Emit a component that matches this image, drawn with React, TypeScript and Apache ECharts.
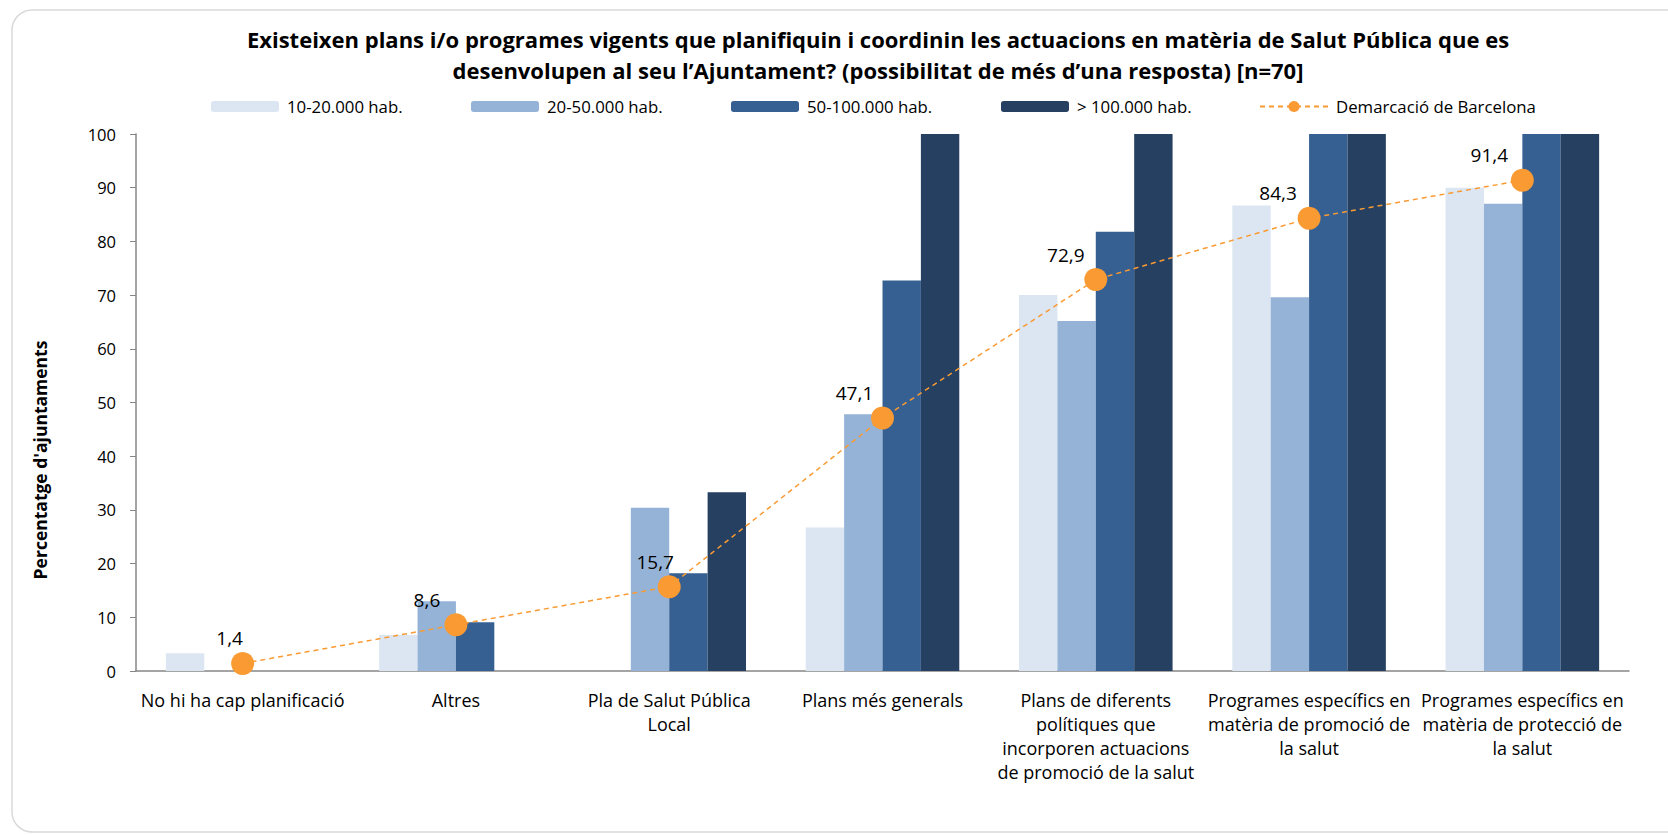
import React, { useEffect, useRef } from "react";
import * as echarts from "echarts";

const categories = [
  "No hi ha cap planificació",
  "Altres",
  "Pla de Salut Pública\nLocal",
  "Plans més generals",
  "Plans de diferents\npolítiques que\nincorporen actuacions\nde promoció de la salut",
  "Programes específics en\nmatèria de promoció de\nla salut",
  "Programes específics en\nmatèria de protecció de\nla salut",
];

const seriesNames = ["10-20.000 hab.", "20-50.000 hab.", "50-100.000 hab.", "> 100.000 hab."];
const s10_20 = [3.3, 6.7, 0, 26.7, 70.0, 86.7, 90.0];
const s20_50 = [0, 13.0, 30.4, 47.8, 65.2, 69.6, 87.0];
const s50_100 = [0, 9.1, 18.2, 72.7, 81.8, 100, 100];
const s100 = [0, 0, 33.3, 100, 100, 100, 100];
const lineName = "Demarcació de Barcelona";
const demarcacio = [1.4, 8.6, 15.7, 47.1, 72.9, 84.3, 91.4];

const yTicks = { min: 0, max: 100, interval: 10 };

const titleLines = [
  "Existeixen plans i/o programes vigents que planifiquin i coordinin les actuacions en matèria de Salut Pública que es",
  "desenvolupen al seu l’Ajuntament? (possibilitat de més d’una resposta) [n=70]",
];
const yAxisTitle = "Percentatge d'ajuntaments";

// styles
const barColors = ["#DCE6F2", "#95B3D7", "#376092", "#254061"];
const orange = "#F99A33";
const labelOffsetsX = [-13, -29, -14, -28, -30, -31, -33];
const legendLefts = [206, 466, 726, 996, 1254];
const FONT = "'Open Sans', 'Noto Sans', sans-serif";

export default function App() {
  const ref = useRef<HTMLDivElement>(null);

  useEffect(() => {
    if (!ref.current) return;
    const chart = echarts.init(ref.current, undefined, { renderer: "svg" });
    const barData = [s10_20, s20_50, s50_100, s100];

    const barSeries = barData.map((d, i) => ({
      name: seriesNames[i],
      type: "bar",
      data: d,
      barGap: "0%",
      barCategoryGap: "28%",
      itemStyle: { color: barColors[i] },
      z: 2,
    }));

    const legends = [...seriesNames, lineName].map((n, i) => ({
      data: [n],
      left: legendLefts[i],
      top: 93,
      itemWidth: 68,
      itemHeight: i < 4 ? 11 : 14,
      textStyle: { fontFamily: FONT, fontSize: 16.8, color: "#000", padding: [0, 0, 0, 3] },
      selectedMode: false,
    }));

    chart.setOption({
      animation: false,
      backgroundColor: "#fff",
      textStyle: { fontFamily: FONT },
      legend: legends,
      grid: { left: 136, right: 39, top: 134, bottom: 164, containLabel: false },
      xAxis: {
        type: "category",
        data: categories,
        axisLine: { lineStyle: { color: "#868686", width: 1.5 } },
        axisTick: { show: false },
        axisLabel: {
          interval: 0,
          margin: 17,
          color: "#000",
          fontSize: 18,
          lineHeight: 24,
          fontFamily: FONT,
        },
      },
      yAxis: {
        type: "value",
        min: yTicks.min,
        max: yTicks.max,
        interval: yTicks.interval,
        axisLine: { show: true, lineStyle: { color: "#868686", width: 1.5 } },
        axisTick: { show: true, length: 6, lineStyle: { color: "#868686" } },
        splitLine: { show: false },
        axisLabel: { color: "#000", fontSize: 16.5, margin: 20, fontFamily: FONT },
      },
      series: [
        ...barSeries,
        {
          name: lineName,
          type: "line",
          data: demarcacio.map((v, i) => ({
            value: v,
            label: { offset: [labelOffsetsX[i], 1] },
          })),
          symbol: "circle",
          symbolSize: 23,
          z: 5,
          itemStyle: { color: orange },
          lineStyle: { color: orange, width: 1.5, type: [5, 4] },
          label: {
            show: true,
            position: "top",
            color: "#000",
            fontSize: 19,
            fontFamily: FONT,
            formatter: (p: any) => String(p.value).replace(".", ","),
          },
        },
      ],
      graphic: [
        {
          type: "rect",
          shape: { x: 12, y: 10, width: 1720, height: 822, r: 20 },
          style: { fill: "none", stroke: "#D9D9D9", lineWidth: 1.5 },
          silent: true,
        },
        {
          type: "text",
          x: 878,
          y: 39,
          style: {
            text: titleLines[0],
            fontFamily: FONT,
            fontSize: 22,
            fontWeight: "bold",
            fill: "#000",
            textAlign: "center",
            textVerticalAlign: "middle",
          },
        },
        {
          type: "text",
          x: 878,
          y: 70,
          style: {
            text: titleLines[1],
            fontFamily: FONT,
            fontSize: 22,
            fontWeight: "bold",
            fill: "#000",
            textAlign: "center",
            textVerticalAlign: "middle",
          },
        },
        {
          type: "text",
          x: 40,
          y: 460,
          rotation: Math.PI / 2,
          style: {
            text: yAxisTitle,
            fontFamily: FONT,
            fontSize: 17.5,
            fontWeight: "bold",
            fill: "#000",
            textAlign: "center",
            textVerticalAlign: "middle",
          },
        },
      ],
    });

    return () => chart.dispose();
  }, []);

  return (
    <div
      ref={ref}
      style={{ position: "fixed", left: 0, top: 0, width: 1668, height: 835, background: "#fff" }}
    />
  );
}
